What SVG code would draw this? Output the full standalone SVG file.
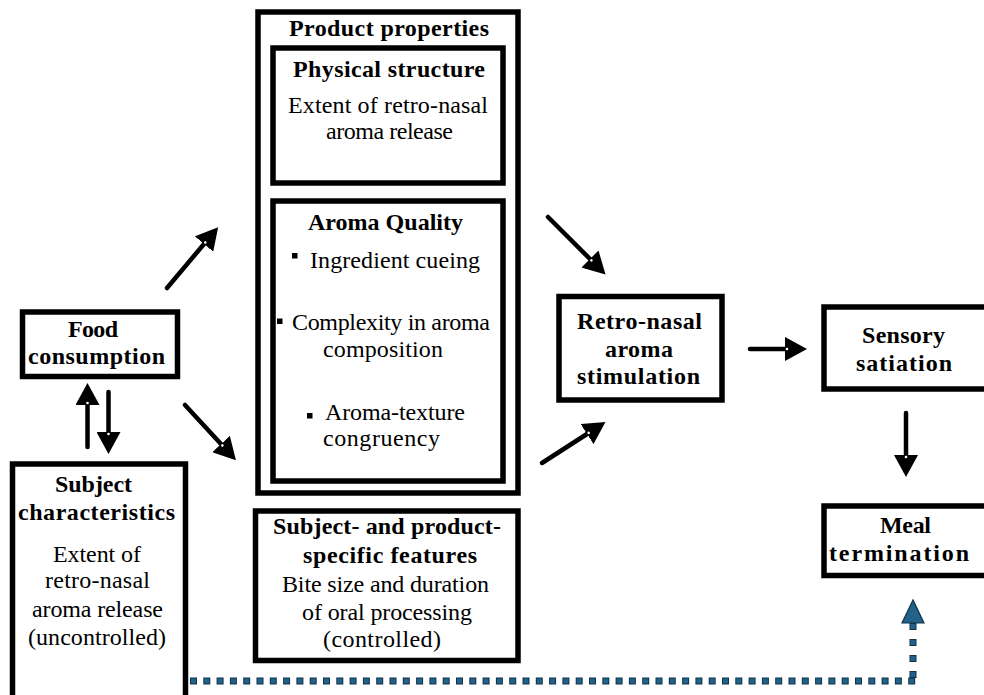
<svg xmlns="http://www.w3.org/2000/svg" width="984" height="695" viewBox="0 0 984 695">
  <style>
    .box { fill: #ffffff; stroke: #000000; stroke-width: 5.5; }
    .t { font-family: "Liberation Serif", "Times New Roman", serif; font-size: 24px; fill: #000000; }
    .b { font-weight: bold; }
    .arr { stroke: #000000; stroke-width: 4.5; stroke-linecap: round; fill: none; }
    .bullet { fill: #000000; }
    .dotOuter { stroke: #0f3348; stroke-width: 7; fill: none; }
    .dotInner { stroke: #22618a; stroke-width: 5; fill: none; }
  </style>
  <defs>
    <marker id="ah" markerUnits="userSpaceOnUse" viewBox="0 0 22 24" markerWidth="22" markerHeight="24" refX="0" refY="12" orient="auto">
      <path d="M0,0 L22,12 L0,24 Z" fill="#000000"/>
      <circle cx="2" cy="12" r="1.3" fill="#ffffff"/>
    </marker>
  </defs>

  <rect width="984" height="695" fill="#ffffff"/>

  <!-- connectors -->
  <g id="connectors">
    <!-- Food consumption -> product properties -->
    <line class="arr" x1="167" y1="288" x2="204" y2="244" marker-end="url(#ah)"/>
    <!-- Food consumption -> subject/product features -->
    <line class="arr" x1="185" y1="405" x2="221" y2="444" marker-end="url(#ah)"/>
    <!-- Subject characteristics <-> Food consumption -->
    <line class="arr" x1="87.5" y1="447" x2="87.5" y2="405" marker-end="url(#ah)"/>
    <line class="arr" x1="108.5" y1="392" x2="108.5" y2="432" marker-end="url(#ah)"/>
    <!-- into Retro-nasal aroma stimulation -->
    <line class="arr" x1="548" y1="217" x2="590" y2="259" marker-end="url(#ah)"/>
    <line class="arr" x1="542" y1="463" x2="587" y2="434" marker-end="url(#ah)"/>
    <!-- Retro-nasal -> Sensory satiation -->
    <line class="arr" x1="750" y1="349" x2="785" y2="349" marker-end="url(#ah)"/>
    <!-- Sensory satiation -> Meal termination -->
    <line class="arr" x1="906" y1="413" x2="906" y2="455" marker-end="url(#ah)"/>
    <!-- dotted feedback from subject characteristics to meal termination -->
    <line class="dotOuter" x1="190" y1="681" x2="916" y2="681" stroke-dasharray="7 6.3"/>
    <line class="dotInner" x1="190" y1="681" x2="916" y2="681" stroke-dasharray="5 8.3" stroke-dashoffset="-1"/>
    <line class="dotOuter" x1="913" y1="678" x2="913" y2="622" stroke-dasharray="7 9"/>
    <line class="dotInner" x1="913" y1="678" x2="913" y2="622" stroke-dasharray="5 11" stroke-dashoffset="-1"/>
    <polygon points="913,600 902,623 924,623" fill="#22618a" stroke="#0f3348" stroke-width="1.2"/>
  </g>

  <g id="product-properties">
    <rect class="box" x="258" y="12" width="260" height="481"/>
    <text class="t b" x="289" y="36" textLength="200" lengthAdjust="spacing">Product properties</text>
  </g>

  <g id="physical-structure">
    <rect class="box" x="273" y="48" width="230" height="135"/>
    <text class="t b" x="293" y="77" textLength="192" lengthAdjust="spacing">Physical structure</text>
    <text class="t" x="288" y="113" textLength="200" lengthAdjust="spacing">Extent of retro-nasal</text>
    <text class="t" x="326" y="139" textLength="127" lengthAdjust="spacing">aroma release</text>
  </g>

  <g id="aroma-quality">
    <rect class="box" x="273" y="201" width="230" height="280"/>
    <text class="t b" x="308" y="230" textLength="155" lengthAdjust="spacing">Aroma Quality</text>
    <rect class="bullet" x="292" y="253" width="5.5" height="5.5"/>
    <text class="t" x="310" y="268" textLength="170" lengthAdjust="spacing">Ingredient cueing</text>
    <rect class="bullet" x="277" y="318.5" width="5.5" height="5.5"/>
    <text class="t" x="292" y="330" textLength="198" lengthAdjust="spacing">Complexity in aroma</text>
    <text class="t" x="323" y="357" textLength="120" lengthAdjust="spacing">composition</text>
    <rect class="bullet" x="307" y="413" width="5.5" height="5.5"/>
    <text class="t" x="325" y="420" textLength="140" lengthAdjust="spacing">Aroma-texture</text>
    <text class="t" x="323" y="446" textLength="117" lengthAdjust="spacing">congruency</text>
  </g>

  <g id="subject-product-features">
    <rect class="box" x="255.5" y="511" width="262.5" height="149.5"/>
    <text class="t b" x="273" y="534" textLength="228" lengthAdjust="spacing">Subject- and product-</text>
    <text class="t b" x="303" y="563" textLength="174" lengthAdjust="spacing">specific features</text>
    <text class="t" x="282" y="592" textLength="207" lengthAdjust="spacing">Bite size and duration</text>
    <text class="t" x="302" y="620" textLength="170" lengthAdjust="spacing">of oral processing</text>
    <text class="t" x="323" y="647" textLength="118" lengthAdjust="spacing">(controlled)</text>
  </g>

  <g id="food-consumption">
    <rect class="box" x="22.5" y="312" width="155" height="64.5"/>
    <text class="t b" x="68" y="337" textLength="50" lengthAdjust="spacing">Food</text>
    <text class="t b" x="28" y="364" textLength="137" lengthAdjust="spacing">consumption</text>
  </g>

  <g id="subject-characteristics">
    <rect class="box" x="12.5" y="464" width="173" height="260"/>
    <text class="t b" x="55" y="492" textLength="77" lengthAdjust="spacing">Subject</text>
    <text class="t b" x="18" y="520" textLength="157" lengthAdjust="spacing">characteristics</text>
    <text class="t" x="53" y="562" textLength="88" lengthAdjust="spacing">Extent of</text>
    <text class="t" x="45" y="588" textLength="105" lengthAdjust="spacing">retro-nasal</text>
    <text class="t" x="32" y="617" textLength="131" lengthAdjust="spacing">aroma release</text>
    <text class="t" x="28" y="645" textLength="138" lengthAdjust="spacing">(uncontrolled)</text>
  </g>

  <g id="retro-nasal-stimulation">
    <rect class="box" x="559" y="296.5" width="163" height="103.5"/>
    <text class="t b" x="577" y="329" textLength="125" lengthAdjust="spacing">Retro-nasal</text>
    <text class="t b" x="605" y="357" textLength="68" lengthAdjust="spacing">aroma</text>
    <text class="t b" x="577" y="384" textLength="123" lengthAdjust="spacing">stimulation</text>
  </g>

  <g id="sensory-satiation">
    <rect class="box" x="824" y="307" width="200" height="82"/>
    <text class="t b" x="862" y="343" textLength="83" lengthAdjust="spacing">Sensory</text>
    <text class="t b" x="856" y="371" textLength="96" lengthAdjust="spacing">satiation</text>
  </g>

  <g id="meal-termination">
    <rect class="box" x="824" y="506" width="200" height="69.5"/>
    <text class="t b" x="880" y="533" textLength="51" lengthAdjust="spacing">Meal</text>
    <text class="t b" x="829" y="561" textLength="140" lengthAdjust="spacing">termination</text>
  </g>
</svg>
